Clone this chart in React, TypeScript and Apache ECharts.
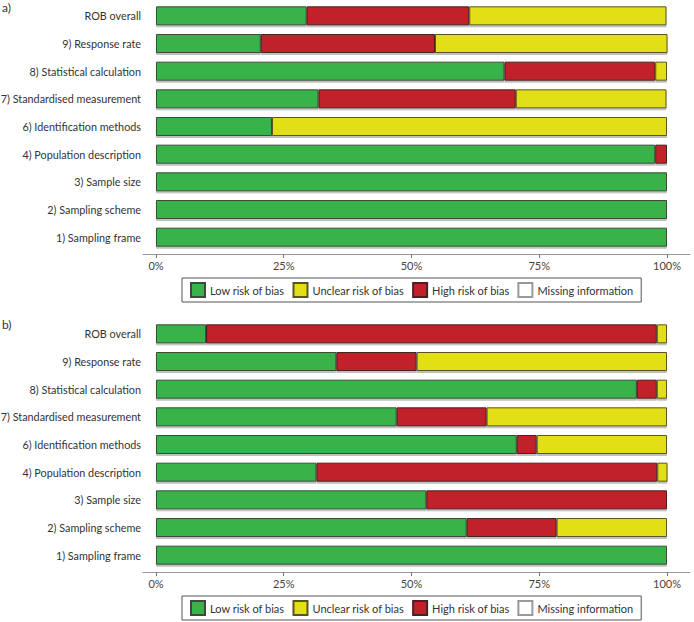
import React, { useEffect, useRef } from "react";
import * as echarts from "echarts";

const categories = [
  "ROB overall",
  "9) Response rate",
  "8) Statistical calculation",
  "7) Standardised measurement",
  "6) Identification methods",
  "4) Population description",
  "3) Sample size",
  "2) Sampling scheme",
  "1) Sampling frame",
];

const tickValues = [0, 25, 50, 75, 100];

// Panel a (percentages)
const lowA = [29.5, 20.5, 68.2, 31.8, 22.7, 97.7, 100, 100, 100];
const highA = [31.8, 34.1, 29.5, 38.6, 0, 2.3, 0, 0, 0];
const unclearA = [38.6, 45.5, 2.3, 29.5, 77.3, 0, 0, 0, 0];
const missingA = [0, 0, 0, 0, 0, 0, 0, 0, 0];

// Panel b (percentages)
const lowB = [9.8, 35.3, 94.1, 47.1, 70.6, 31.4, 52.9, 60.8, 100];
const highB = [88.2, 15.7, 3.9, 17.6, 3.9, 66.7, 47.1, 17.6, 0];
const unclearB = [2.0, 49.0, 2.0, 35.3, 25.5, 2.0, 0, 21.6, 0];
const missingB = [0, 0, 0, 0, 0, 0, 0, 0, 0];

const legendNames = [
  "Low risk of bias",
  "Unclear risk of bias",
  "High risk of bias",
  "Missing information",
];

const FONT = "Lato";

export default function App() {
  const ref = useRef<HTMLDivElement>(null);
  useEffect(() => {
    document.body.style.margin = "0";
    if (!ref.current) return;
    const chart = echarts.init(ref.current, undefined, { renderer: "svg" });

    const colors: Record<string, string> = {
      "Low risk of bias": "#37b34a",
      "Unclear risk of bias": "#e3df17",
      "High risk of bias": "#c1202a",
      "Missing information": "#ffffff",
    };
    const borders: Record<string, string> = {
      "Low risk of bias": "#3c4a3c",
      "Unclear risk of bias": "#5a5520",
      "High risk of bias": "#4a2020",
      "Missing information": "#999999",
    };

    const grids = [
      { left: 143, right: 4, top: 2, height: 249, containLabel: false, outerBoundsMode: "none" },
      { left: 143, right: 4, top: 320, height: 249, containLabel: false, outerBoundsMode: "none" },
    ];

    const mk = (name: string, data: number[], idx: number) => ({
      name,
      type: "bar",
      stack: "s" + idx,
      xAxisIndex: idx,
      yAxisIndex: idx,
      barWidth: 19,
      data: data.map((v) => (v > 0 ? v : null)),
      itemStyle: {
        color: colors[name],
        borderColor: borders[name],
        borderWidth: 1,
        shadowColor: "rgba(0,0,0,0.25)",
        shadowOffsetY: 2,
        shadowBlur: 0,
      },
      emphasis: { disabled: true },
    });

    const xAxis = (idx: number) => ({
      type: "value",
      gridIndex: idx,
      min: -2.54,
      max: 104.5,
      offset: 3,
      splitLine: { show: false },
      axisLine: { show: true, lineStyle: { color: "#999", width: 1 } },
      axisTick: {
        show: true,
        customValues: tickValues,
        length: 4,
        lineStyle: { color: "#777" },
      },
      axisLabel: {
        customValues: tickValues,
        formatter: (v: number) => v + "%",
        color: "#444",
        fontSize: 11,
        fontFamily: FONT,
        margin: 6,
      },
    });

    const yAxis = (idx: number) => ({
      type: "category",
      gridIndex: idx,
      data: categories,
      inverse: true,
      axisLine: { show: false },
      axisTick: { show: false },
      axisLabel: { color: "#333", fontSize: 10.8, fontFamily: FONT, margin: 2 },
    });

    const legend = (top: number) => ({
      data: legendNames,
      left: 182,
      top,
      orient: "horizontal",
      icon: "rect",
      itemWidth: 14,
      itemHeight: 14,
      itemGap: 8,
      borderColor: "#555",
      borderWidth: 1,
      padding: [4, 8, 4, 8],
      selectedMode: false,
      textStyle: { color: "#333", fontSize: 11, fontFamily: FONT },
    });

    chart.setOption({
      animation: false,
      textStyle: { fontFamily: FONT },
      grid: grids,
      xAxis: [xAxis(0), xAxis(1)],
      yAxis: [yAxis(0), yAxis(1)],
      legend: [legend(278), legend(596)],
      graphic: [
        { type: "text", left: 2, top: 1, style: { text: "a)", fontSize: 12, fontFamily: FONT, fill: "#333" } },
        { type: "text", left: 2, top: 318, style: { text: "b)", fontSize: 12, fontFamily: FONT, fill: "#333" } },
      ],
      series: [
        mk("Low risk of bias", lowA, 0),
        mk("High risk of bias", highA, 0),
        mk("Unclear risk of bias", unclearA, 0),
        mk("Missing information", missingA, 0),
        mk("Low risk of bias", lowB, 1),
        mk("High risk of bias", highB, 1),
        mk("Unclear risk of bias", unclearB, 1),
        mk("Missing information", missingB, 1),
      ],
    });
    return () => chart.dispose();
  }, []);
  return <div ref={ref} style={{ width: 694, height: 622 }} />;
}
